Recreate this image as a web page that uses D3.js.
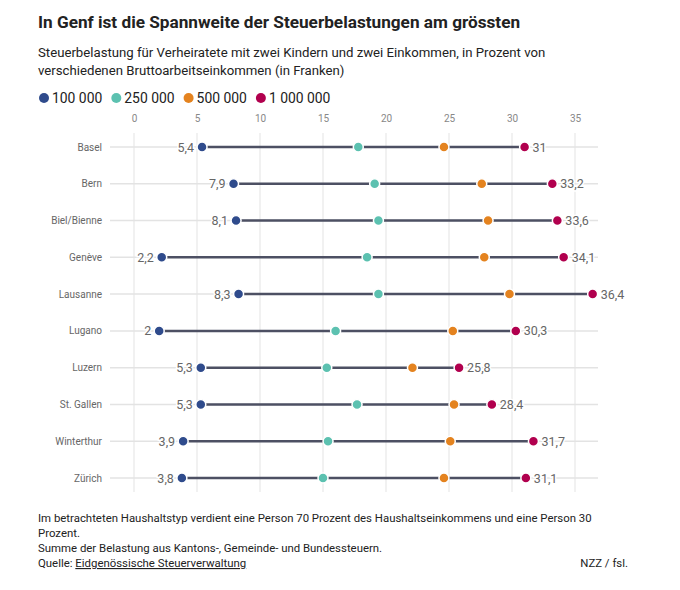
<!DOCTYPE html>
<html><head><meta charset="utf-8">
<script src="https://cdn.jsdelivr.net/npm/d3@7"></script>
<style>
body{margin:0;background:#fff;font-family:Roboto,"Noto Sans",sans-serif;}
svg text{font-family:Roboto,"Noto Sans",sans-serif;}
</style></head><body>
<svg id="c" width="680" height="590"></svg>
<script>
const cities = ["Basel","Bern","Biel/Bienne","Genève","Lausanne","Lugano","Luzern","St. Gallen","Winterthur","Zürich"];
const series = ["100 000","250 000","500 000","1 000 000"];
const v100k = [5.4,7.9,8.1,2.2,8.3,2.0,5.3,5.3,3.9,3.8];
const v250k = [17.8,19.1,19.4,18.5,19.4,16.0,15.3,17.7,15.4,15.0];
const v500k = [24.6,27.6,28.1,27.8,29.8,25.3,22.1,25.4,25.1,24.6];
const v1m   = [31.0,33.2,33.6,34.1,36.4,30.3,25.8,28.4,31.7,31.1];
const xTicks = [0,5,10,15,20,25,30,35];
const colors = ["#2f4b8c","#5cc1b0","#e4831f","#b1004e"];

const svg = d3.select("#c");
const fmt = v => String(v).replace(".", ",");

svg.append("text").attr("x",38).attr("y",28).attr("font-size",17.2).attr("font-weight",700).attr("fill","#222")
  .text("In Genf ist die Spannweite der Steuerbelastungen am grössten");
svg.append("text").attr("x",38).attr("y",57).attr("font-size",13.2).attr("fill","#222")
  .text("Steuerbelastung für Verheiratete mit zwei Kindern und zwei Einkommen, in Prozent von");
svg.append("text").attr("x",38).attr("y",75).attr("font-size",13.2).attr("fill","#222")
  .text("verschiedenen Bruttoarbeitseinkommen (in Franken)");

// legend
let lx = 39;
series.forEach((s,i)=>{
  svg.append("circle").attr("cx",lx+5).attr("cy",98).attr("r",5).attr("fill",colors[i]);
  const t = svg.append("text").attr("x",lx+13).attr("y",103).attr("font-size",13.9).attr("fill","#222").text(s);
  lx += 13 + t.node().getComputedTextLength() + 9;
});

const x = d3.scaleLinear().domain([0,35]).range([134,575]);
const y = d3.scalePoint().domain(cities).range([147,478]);

// vertical grid
const g = svg.append("g");
g.selectAll("line.v").data(xTicks).join("line")
  .attr("x1",d=>x(d)).attr("x2",d=>x(d)).attr("y1",133).attr("y2",492)
  .attr("stroke","#e3e3e3").attr("stroke-width",1);
const ax = d3.axisTop(x).tickValues(xTicks).tickSize(0).tickFormat(d=>d);
const axg = svg.append("g").attr("transform","translate(0,125)").call(ax);
axg.select(".domain").remove();
axg.selectAll("text").attr("font-size",10).attr("fill","#888");

// row lines
g.selectAll("line.h").data(cities).join("line")
  .attr("x1",110).attr("x2",598).attr("y1",d=>y(d)).attr("y2",d=>y(d))
  .attr("stroke","#e3e3e3").attr("stroke-width",1.5);

// row labels
svg.selectAll("text.city").data(cities).join("text")
  .attr("x",102).attr("y",d=>y(d)+3.5).attr("text-anchor","end")
  .attr("font-size",10).attr("fill","#666").text(d=>d);

const rows = cities.map((c,i)=>({c, vals:[v100k[i],v250k[i],v500k[i],v1m[i]]}));

// range lines
svg.selectAll("line.r").data(rows).join("line")
  .attr("x1",d=>x(d3.min(d.vals))).attr("x2",d=>x(d3.max(d.vals)))
  .attr("y1",d=>y(d.c)).attr("y2",d=>y(d.c))
  .attr("stroke","#4d5063").attr("stroke-width",2.5);

// dots
rows.forEach(r=>{
  svg.selectAll(null).data(r.vals).join("circle")
    .attr("cx",d=>x(d)).attr("cy",y(r.c)).attr("r",5)
    .attr("fill",(d,i)=>colors[i]).attr("stroke","#fff").attr("stroke-width",1.5);
});

// value labels
svg.selectAll("text.minl").data(rows).join("text")
  .attr("x",d=>x(d.vals[0])-8).attr("y",d=>y(d.c)+4.5).attr("text-anchor","end")
  .attr("font-size",12.5).attr("fill","#666")
  .attr("stroke","#fff").attr("stroke-width",3).attr("paint-order","stroke")
  .text(d=>fmt(d.vals[0]));
svg.selectAll("text.maxl").data(rows).join("text")
  .attr("x",d=>x(d.vals[3])+8).attr("y",d=>y(d.c)+4.5).attr("text-anchor","start")
  .attr("font-size",12.5).attr("fill","#666")
  .attr("stroke","#fff").attr("stroke-width",3).attr("paint-order","stroke")
  .text(d=>fmt(d.vals[3]));

// footer
const foot = ["Im betrachteten Haushaltstyp verdient eine Person 70 Prozent des Haushaltseinkommens und eine Person 30","Prozent.","Summe der Belastung aus Kantons-, Gemeinde- und Bundessteuern."];
foot.forEach((t,i)=>svg.append("text").attr("x",38).attr("y",522+i*15).attr("font-size",11.4).attr("fill","#222").text(t));
const q = svg.append("text").attr("x",38).attr("y",567).attr("font-size",11.4).attr("fill","#222");
q.append("tspan").text("Quelle: ");
q.append("tspan").attr("text-decoration","underline").text("Eidgenössische Steuerverwaltung");
svg.append("text").attr("x",628).attr("y",567).attr("text-anchor","end").attr("font-size",11.4).attr("fill","#222").text("NZZ / fsl.");
</script></body></html>
